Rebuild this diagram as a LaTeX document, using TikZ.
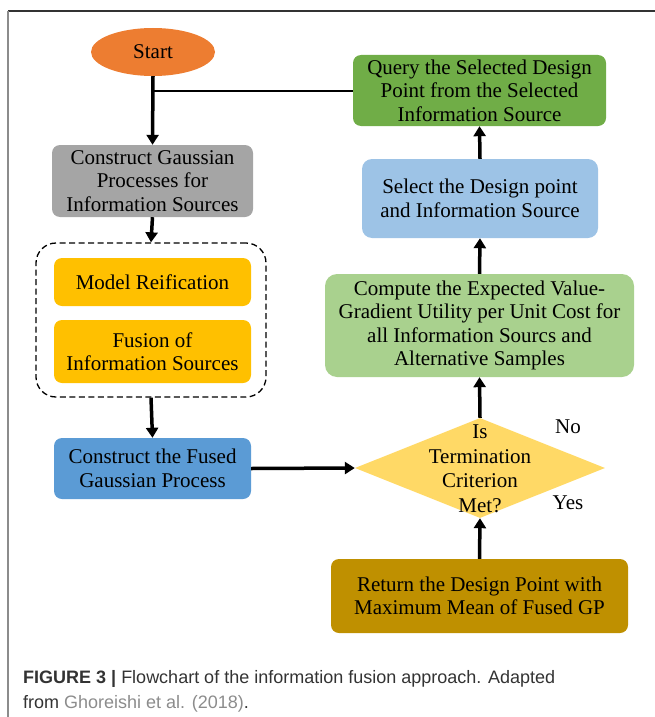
\documentclass[tikz,border=0pt]{standalone}
\usepackage{fontspec}
\setmainfont{Liberation Serif}
\newfontfamily\capfont{Liberation Sans}
\usetikzlibrary{shapes.geometric,arrows.meta}
\definecolor{cstart}{HTML}{ED7D31}
\definecolor{cgray}{HTML}{A5A5A5}
\definecolor{cyel}{HTML}{FFC000}
\definecolor{cblue}{HTML}{5B9BD5}
\definecolor{cdia}{HTML}{FFD966}
\definecolor{clgreen}{HTML}{A9D18E}
\definecolor{clblue}{HTML}{9DC3E6}
\definecolor{cgreen}{HTML}{70AD47}
\definecolor{cgold}{HTML}{BF9000}
\definecolor{ccap}{HTML}{333333}
\definecolor{clink}{HTML}{8C8C8C}
\begin{document}
\begin{tikzpicture}[x=1pt,y=-1pt,
  box/.style={rectangle, rounded corners=8pt, inner sep=2pt, align=center,
    font=\fontsize{21}{23.5}\selectfont},
  flow/.style={line width=3.5pt, -{Triangle[width=12pt,length=10pt]}},
  plainline/.style={line width=2pt},
  lbl/.style={font=\fontsize{21}{23.5}\selectfont},
  captext/.style={anchor=base west, inner sep=0pt, text=ccap,
    font=\capfont\fontsize{18}{26}\selectfont},
]
\useasboundingbox (0,0) rectangle (655,717);
% frame
\coordinate (f1) at (8,11);
\coordinate (f2) at (655,11);
\coordinate (f3) at (8,717);
\draw[ccap, line width=1.2pt] (f1) -- (f2);
\draw[clink, line width=1.5pt] (f1) -- (f3);

\node[ellipse, fill=cstart, minimum width=124pt, minimum height=48pt, inner sep=0pt,
  font=\fontsize{21}{23.5}\selectfont] (start) at (153,52) {Start};
\node[box, fill=cgray, minimum width=201pt, minimum height=72pt] (cgp) at (152.5,181)
  {Construct Gaussian\\Processes for\\Information Sources};
\node[rectangle, rounded corners=20pt, draw, dash pattern=on 6pt off 3.5pt, line width=1.3pt,
  minimum width=230pt, minimum height=154pt] (grp) at (151,320) {};
\node[box, fill=cyel, minimum width=197pt, minimum height=48pt] (mr) at (152.5,282)
  {Model Reification};
\node[box, fill=cyel, minimum width=197pt, minimum height=63pt] (fus) at (152.5,351.5)
  {Fusion of\\Information Sources};
\node[box, fill=cblue, minimum width=197pt, minimum height=61pt] (fgp) at (152.5,468.5)
  {Construct the Fused\\Gaussian Process};
\node[diamond, fill=cdia, minimum width=250pt, minimum height=100pt, inner sep=0pt] (dia) at (480,468) {};
\node[align=center, font=\fontsize{21}{24.5}\selectfont] (diatext) at (480,469)
  {Is\\Termination\\Criterion\\Met?};
\node[box, fill=clgreen, minimum width=309pt, minimum height=103pt, rounded corners=12pt] (comp) at (479.5,325.5)
  {Compute the Expected Value-\\Gradient Utility per Unit Cost for\\all Information Sourcs and\\Alternative Samples};
\node[box, fill=clblue, minimum width=236pt, minimum height=79pt, rounded corners=10pt] (sel) at (480,198.5)
  {Select the Design point\\and Information Source};
\node[box, fill=cgreen, minimum width=253pt, minimum height=71pt] (qry) at (479.5,90.5)
  {Query the Selected Design\\Point from the Selected\\Information Source};
\node[box, fill=cgold, minimum width=297pt, minimum height=74pt] (ret) at (479.5,596)
  {Return the Design Point with\\Maximum Mean of Fused GP};
\node[lbl] (no) at (568,427) {No};
\node[lbl] (yes) at (568,503) {Yes};

% connectors
\coordinate (j) at (153,90.5);
\draw[flow] (start.south) -- (cgp.north);
\draw[plainline] (j) -- (qry.west);
\draw[flow] (cgp.south) -- (grp.north);
\draw[flow] (grp.south) -- (fgp.north);
\draw[flow] (fgp.east) -- (dia.west);
\draw[flow] (dia.north) -- (comp.south);
\draw[flow] (comp.north) -- (sel.south);
\draw[flow] (sel.north) -- (qry.south);
\draw[flow] (ret.north) -- (dia.south);

% caption
\node[captext] (cap1) at (23,683)
  {\textbf{FIGURE 3 |} Flowchart of the information fusion approach. Adapted};
\node[captext] (cap2) at (23,708)
  {from \textcolor{clink}{Ghoreishi et al.} \textcolor{clink}{(2018)}.};
\end{tikzpicture}
\end{document}
